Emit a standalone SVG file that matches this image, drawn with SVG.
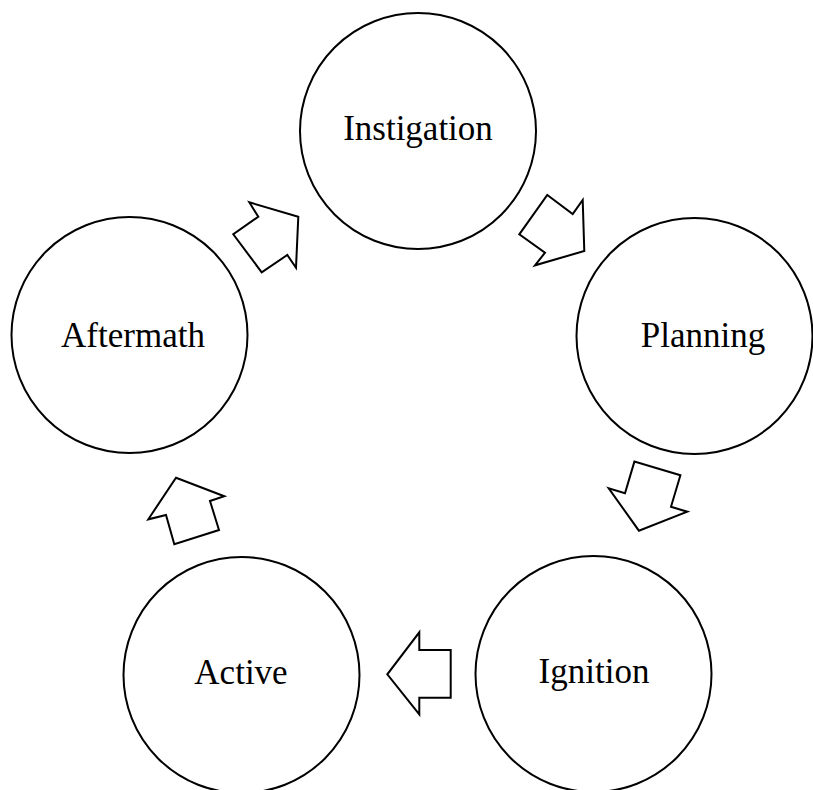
<svg xmlns="http://www.w3.org/2000/svg" width="813" height="790" viewBox="0 0 813 790">
<style>
.node circle{fill:#fff;stroke:#000;stroke-width:2}
.node text{font-family:"Liberation Serif","Times New Roman",serif;font-size:35px;fill:#000;text-anchor:middle}
.arr polygon{fill:#fff;stroke:#000;stroke-width:2;stroke-linejoin:miter}
</style>
<rect width="813" height="790" fill="#fff"/>
<g id="instigation" class="node"><circle cx="418" cy="131" r="118"/><text x="418" y="140">Instigation</text></g>
<g id="planning" class="node"><circle cx="694.5" cy="336" r="118"/><text x="703" y="347">Planning</text></g>
<g id="ignition" class="node"><circle cx="593.5" cy="674" r="118"/><text x="594" y="683">Ignition</text></g>
<g id="active" class="node"><circle cx="241.5" cy="675" r="118"/><text x="241" y="684">Active</text></g>
<g id="aftermath" class="node"><circle cx="129.5" cy="335" r="118"/><text x="133" y="347">Aftermath</text></g>
<g id="connectors" class="arr">
<polygon points="249.3,202.3 258.3,216.7 233.3,234.3 261.7,272.3 287.3,255 296,267.7 298.3,216.7"/>
<polygon points="547.3,195 572.7,214 582.7,200 584.3,251 535,265.3 545,252.7 519.3,234.3"/>
<polygon points="680.4,475.2 671,506.8 687.3,511.7 638.9,530.7 608.7,488.3 625,493.2 634.4,461.6"/>
<polygon points="419.3,632.3 419.3,650 450.7,650 450.7,697.7 419.3,697.7 419.3,714.3 387.3,674.3"/>
<polygon points="176,477.7 224.3,496.3 210,501 219,530 174.3,544.3 166,515 148.3,519.3"/>
</g>
</svg>
